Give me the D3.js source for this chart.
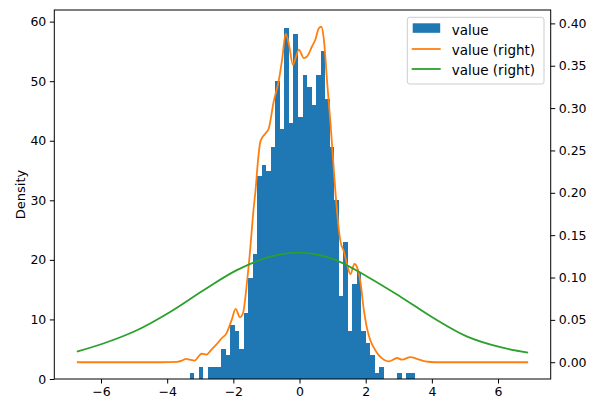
<!DOCTYPE html>
<html>
<head>
<meta charset="utf-8">
<script src="https://cdn.jsdelivr.net/npm/d3@7/dist/d3.min.js"></script>
<style>
  body { margin: 0; background: #fff; }
  svg { display: block; font-family: "DejaVu Sans", sans-serif; }
</style>
</head>
<body>
<div id="chart"></div>
<script>
// histogram (left axis, counts per bin)
const binRange = [-3.32, 3.50];
const counts = [1, 0, 2, 0, 2, 2, 2, 5, 4, 9,
                8, 5, 11, 17, 21, 34, 36, 35, 39, 50,
                42, 59, 43, 58, 44, 51, 49, 46, 51, 55,
                47, 39, 30, 14, 23, 8, 16, 18, 8, 6,
                4, 1, 2, 0, 0, 0, 1, 0, 1, 1];

// narrow kde (right axis)
const kdeX = [-6.73, -4.2, -3.7, -3.55, -3.43, -3.32, -3.17, -3.05, -2.96, -2.81,
              -2.66, -2.51, -2.36, -2.21, -2.05, -1.93, -1.80, -1.70, -1.60, -1.50,
              -1.40, -1.32, -1.26, -1.18, -1.03, -0.93, -0.78, -0.63, -0.52, -0.42,
              -0.32, -0.20, -0.12, -0.02, 0.13, 0.23, 0.38, 0.48, 0.58, 0.66,
              0.73, 0.84, 0.94, 1.04, 1.14, 1.24, 1.34, 1.44, 1.54, 1.66,
              1.74, 1.84, 1.94, 2.04, 2.14, 2.25, 2.40, 2.55, 2.70, 2.95,
              3.10, 3.35, 3.55, 3.8, 4.1, 6.91];
const kdeY = [0, 0, 0.0005, 0.002, 0.004, 0.003, 0.002, 0.007, 0.010, 0.009,
              0.015, 0.021, 0.028, 0.034, 0.050, 0.063, 0.053, 0.059, 0.090, 0.129,
              0.176, 0.207, 0.236, 0.261, 0.270, 0.276, 0.308, 0.332, 0.359, 0.388,
              0.375, 0.351, 0.359, 0.369, 0.359, 0.361, 0.373, 0.381, 0.394, 0.396,
              0.383, 0.328, 0.280, 0.225, 0.175, 0.142, 0.131, 0.115, 0.104, 0.116,
              0.112, 0.095, 0.063, 0.040, 0.026, 0.017, 0.008, 0.003, 0.001, 0.005,
              0.003, 0.006, 0.004, 0.001, 0, 0];

// wide kde (right axis)
const wideX = [-6.73, -5.91, -4.90, -3.90, -2.89, -1.88, -0.88, 0.03, 1.04, 2.05, 3.05, 4.06, 5.07, 6.07, 6.91];
const wideY = [0.0125, 0.0224, 0.0381, 0.0597, 0.0853, 0.109, 0.1246, 0.1293, 0.1215, 0.101, 0.0774, 0.0519, 0.0302, 0.0177, 0.0113];

const xTicks = [-6, -4, -2, 0, 2, 4, 6];
const leftTicks = [0, 10, 20, 30, 40, 50, 60];
const rightTicks = [0, 0.05, 0.10, 0.15, 0.20, 0.25, 0.30, 0.35, 0.40];
const legendLabels = ["value", "value (right)", "value (right)"];

const W = 599, H = 413;
const m = { left: 54.3, right: 550.7, top: 10, bottom: 379 };
const blue = "#1f77b4", orange = "#ff7f0e", green = "#2ca02c";

const svg = d3.select("#chart").append("svg")
  .attr("width", W)
  .attr("height", H)
  .attr("viewBox", `0 0 ${W} ${H}`);

const x = d3.scaleLinear().domain([-7.412, 7.592]).range([m.left, m.right]);
const yL = d3.scaleLinear().domain([0, 61.95]).range([m.bottom, m.top]);
const yR = d3.scaleLinear().domain([-0.0198, 0.4158]).range([m.bottom, m.top]);

const binW = (binRange[1] - binRange[0]) / counts.length;
const bins = counts.map((c, i) => ({ x0: binRange[0] + i * binW, x1: binRange[0] + (i + 1) * binW, c }));

const plot = svg.append("g");

plot.selectAll("rect.bar")
  .data(bins.filter(d => d.c > 0))
  .join("rect")
  .attr("class", "bar")
  .attr("x", d => x(d.x0))
  .attr("width", d => x(d.x1) - x(d.x0))
  .attr("y", d => yL(d.c))
  .attr("height", d => yL(0) - yL(d.c))
  .attr("fill", blue)
  .attr("shape-rendering", "crispEdges");

const kdeLine = d3.line()
  .x(d => x(d[0]))
  .y(d => yR(d[1]))
  .curve(d3.curveMonotoneX);

plot.append("path")
  .datum(kdeX.map((v, i) => [v, kdeY[i]]))
  .attr("d", kdeLine)
  .attr("fill", "none")
  .attr("stroke", orange)
  .attr("stroke-width", 1.8);

plot.append("path")
  .datum(wideX.map((v, i) => [v, wideY[i]]))
  .attr("d", kdeLine.curve(d3.curveCatmullRom))
  .attr("fill", "none")
  .attr("stroke", green)
  .attr("stroke-width", 1.8);

// axes
const fs = 12.5;
const fmtR = d3.format(".2f");

const gx = svg.append("g").attr("transform", `translate(0,${m.bottom})`)
  .call(d3.axisBottom(x).tickValues(xTicks).tickSize(4.5).tickPadding(3.5));
const gl = svg.append("g").attr("transform", `translate(${m.left},0)`)
  .call(d3.axisLeft(yL).tickValues(leftTicks).tickSize(4.5).tickPadding(3.5));
const gr = svg.append("g").attr("transform", `translate(${m.right},0)`)
  .call(d3.axisRight(yR).tickValues(rightTicks).tickFormat(fmtR).tickSize(4.5).tickPadding(3.5));

[gx, gl, gr].forEach(g => {
  g.select(".domain").remove();
  g.selectAll(".tick line").attr("stroke", "#000").attr("stroke-width", 1);
  g.selectAll(".tick text")
    .attr("fill", "#000")
    .style("font-family", "DejaVu Sans")
    .style("font-size", fs + "px");
});

// frame
svg.append("rect")
  .attr("x", m.left).attr("y", m.top)
  .attr("width", m.right - m.left).attr("height", m.bottom - m.top)
  .attr("fill", "none").attr("stroke", "#000").attr("stroke-width", 1);

svg.append("text")
  .attr("transform", `translate(20.5,${(m.top + m.bottom) / 2}) rotate(-90)`)
  .attr("text-anchor", "middle")
  .attr("dy", "0.35em")
  .style("font-size", "13px")
  .text("Density");

// legend
const lg = svg.append("g");
lg.append("rect")
  .attr("x", 407.3).attr("y", 17.3)
  .attr("width", 136.7).attr("height", 66.7)
  .attr("rx", 2.5)
  .attr("fill", "#fff").attr("fill-opacity", 0.8)
  .attr("stroke", "#cccccc").attr("stroke-width", 1);

const rowY = [35, 55, 75];
lg.append("rect")
  .attr("x", 412.7).attr("y", 23.3)
  .attr("width", 27.5).attr("height", 9.5)
  .attr("fill", blue);
[orange, green].forEach((c, i) => {
  lg.append("line")
    .attr("x1", 411.7).attr("x2", 440.7)
    .attr("y1", rowY[i + 1] - 6).attr("y2", rowY[i + 1] - 6)
    .attr("stroke", c).attr("stroke-width", 1.8);
});
lg.selectAll("text")
  .data(legendLabels)
  .join("text")
  .attr("x", 451.7)
  .attr("y", (d, i) => rowY[i])
  .style("font-size", "13.5px")
  .text(d => d);
</script>
</body>
</html>
